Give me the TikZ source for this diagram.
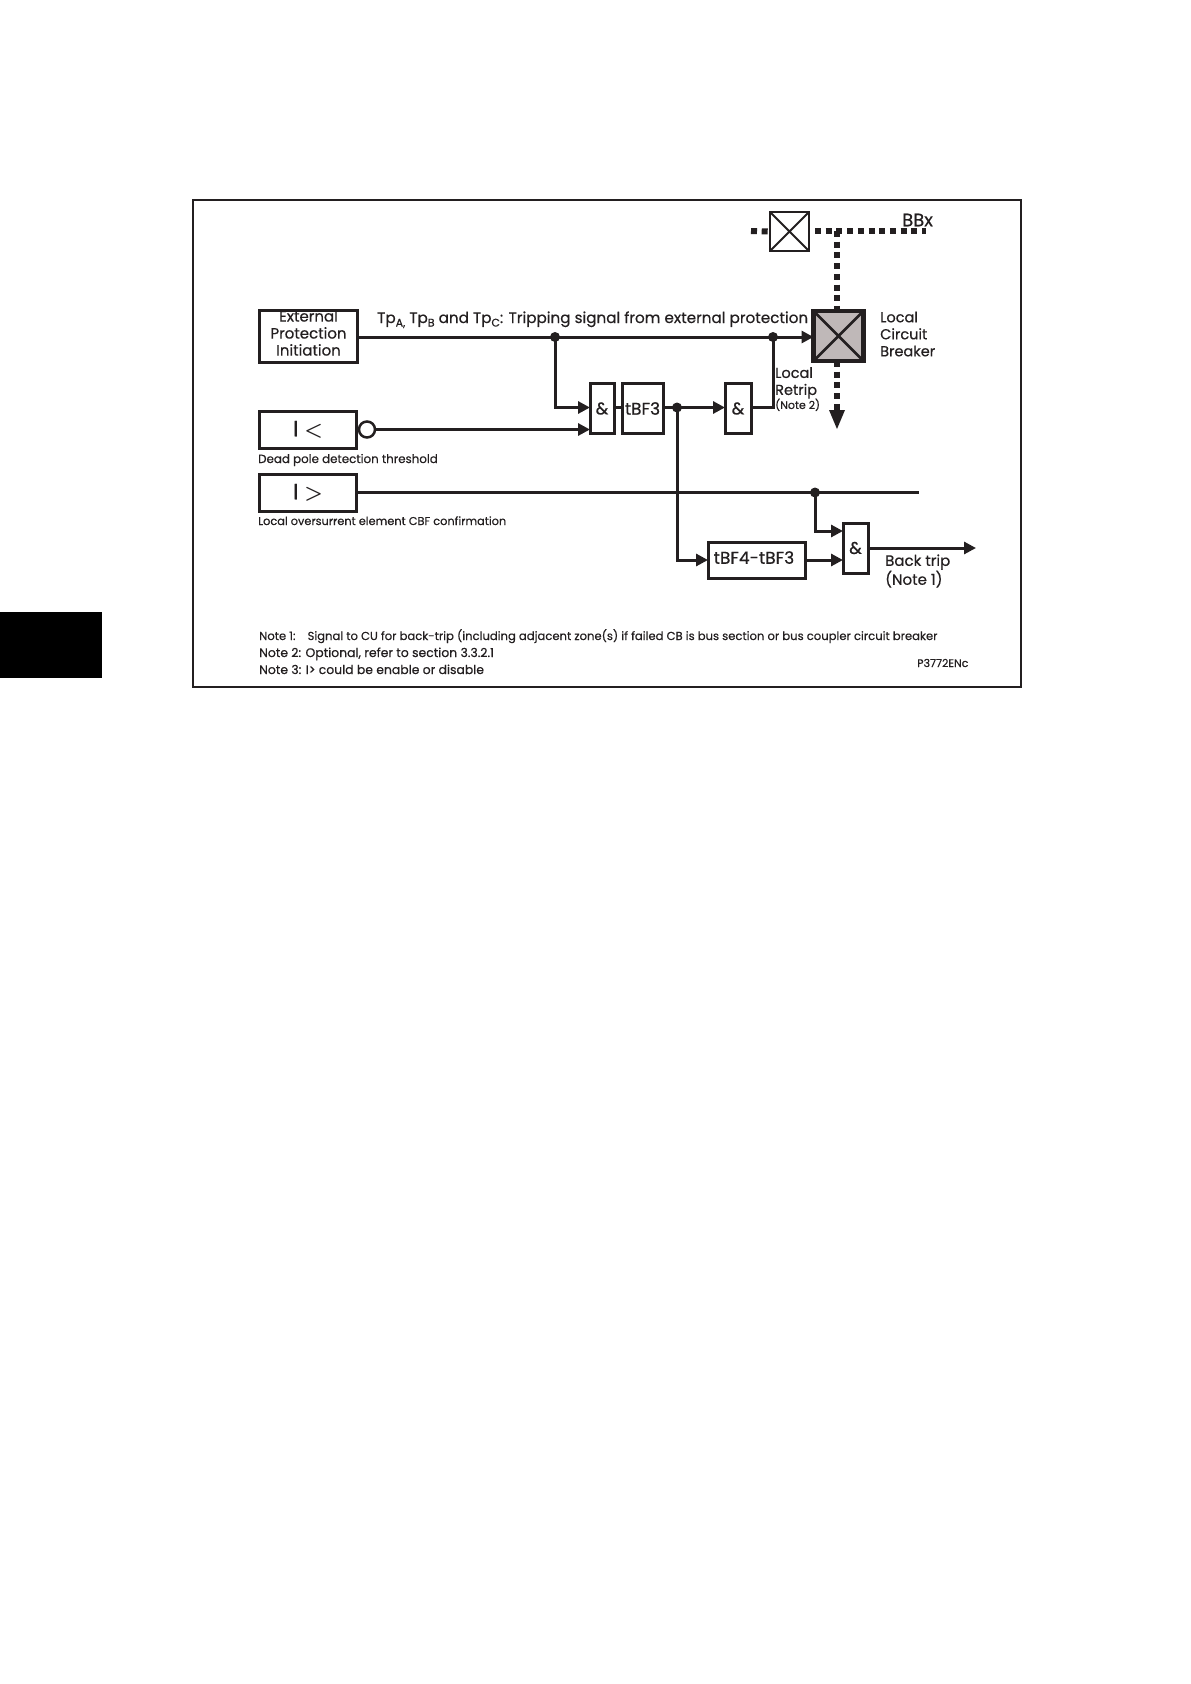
\documentclass[tikz,border=0pt]{standalone}
\usepackage{fontspec}
\setmainfont{Poppins}[RawFeature={embolden=0.5}]
\usepackage{tikz}
\usetikzlibrary{arrows.meta,positioning}
\definecolor{ink}{HTML}{231F20}
\definecolor{breaker}{HTML}{BFB8B8}
\newcommand{\tpsub}[1]{\raisebox{-3.5pt}{\fontsize{11}{12}\selectfont #1}}
\tikzset{
  box/.style={rectangle, draw=ink, fill=white, line width=3pt, outer sep=0pt, inner sep=0pt,
              align=center, text=ink, font=\fontsize{15}{17}\selectfont},
  inbox/.style={box, minimum width=97pt, minimum height=37pt, font=\fontsize{22}{24}\selectfont},
  gatebox/.style={box, minimum width=24pt, minimum height=50pt, font=\fontsize{17}{19}\selectfont},
  timebox/.style={box, font=\fontsize{17}{19}\selectfont},
  switchbox/.style={rectangle, draw=ink, fill=white, line width=2pt, outer sep=0pt, minimum size=39pt},
  lbl/.style={align=left, anchor=west, inner sep=0pt, text=ink, font=\fontsize{14.5}{17}\selectfont},
  small/.style={lbl, anchor=base west, font=\fontsize{11.6}{17}\selectfont},
  flow/.style={-{Triangle[length=12pt,width=12pt]}, draw=ink, line width=3pt},
  wire/.style={draw=ink, line width=3pt},
  bus/.style={draw=ink, line width=6pt, dash pattern=on 6pt off 4.7pt},
  dot/.style={circle, fill=ink, inner sep=0pt, minimum size=10pt}
}
\begin{document}
\begin{tikzpicture}[x=1pt, y=-1pt]
  \useasboundingbox (0,0) rectangle (1191,1684);
  \fill[black] (0,612) rectangle (102,678);
  \draw[ink, line width=1.7pt] (193,200) rectangle (1021,687);

  \node[box, minimum width=98pt, minimum height=52pt, anchor=center] (extinit) at (308.5,336) {External\\Protection\\Initiation\rule[-6pt]{0pt}{0pt}};
  \node[inbox] (under) at (308,429.5) {I {\boldmath$<$}};
  \node[inbox] (over) at (308,492.5) {I {\boldmath$>$}};
  \node[circle, draw=ink, line width=2.5pt, fill=white, outer sep=0pt, inner sep=0pt, minimum size=16pt, right=2.5pt of under] (invert) {};
  \node[gatebox] (andA) at (602,408.5) {\&};
  \node[timebox, minimum width=41pt, minimum height=50pt, right=8pt of andA] (tthree) {tBF3};
  \node[gatebox, minimum width=26pt] (andB) at (738,408.5) {\&};
  \node[box, draw=ink, fill=breaker, line width=4.5pt, minimum size=50pt] (cbreaker) at (838.5,336) {};
  \draw[ink, line width=2.5pt] (cbreaker.north west) -- (cbreaker.south east) (cbreaker.north east) -- (cbreaker.south west);
  \node[switchbox] (bswitch) at (789.5,231.5) {};
  \draw[ink, line width=2pt] (bswitch.north west) -- (bswitch.south east) (bswitch.north east) -- (bswitch.south west);
  \node[timebox, minimum width=97pt, minimum height=36pt] (tdiff) at (756.5,560) {tBF4-tBF3\hspace*{5pt}\rule[-5pt]{0pt}{0pt}};
  \node[gatebox, minimum width=25pt] (andC) at (855.5,548) {\&};

  \node[dot] (tripj) at (555,337) {};
  \node[dot] (localj) at (773,337) {};
  \node[dot] (timej) at (677,407.5) {};
  \node[dot] (overj) at (815,492.5) {};
  \coordinate (busleft) at (751,231);
  \coordinate (busright) at (926,231);
  \coordinate (busstart) at (815,231);
  \coordinate (bustee) at (837,231);
  \coordinate (breakend) at (837,411);
  \coordinate (overend) at (919,492.5);
  \coordinate (backend) at (976,548);

  \draw[flow] (extinit.east |- tripj) -- (cbreaker.west |- tripj);
  \draw[flow] (tripj.center) |- (andA.west |- timej);
  \draw[flow] (invert.east) -- (andA.west |- invert);
  \draw[wire] (andA.east |- timej) -- (tthree.west |- timej);
  \draw[flow] (tthree.east |- timej) -- (andB.west |- timej);
  \draw[wire] (andB.east |- timej) -| (localj.center);
  \draw[wire] (over.east) -- (overend);
  \draw[flow] (timej.center) |- (tdiff.west);
  \draw[flow] (tdiff.east) -- (andC.west |- tdiff);
  \draw[flow] (overj.center) |- ([yshift=17pt]andC.west);
  \draw[flow] (andC.east) -- (backend);
  \draw[bus] (busleft) -- (bswitch.west);
  \draw[bus] (busstart) -- (busright);
  \draw[bus] (bustee) -- (bustee |- cbreaker.north);
  \draw[bus] (bustee |- cbreaker.south) -- (breakend);
  \fill[ink] (829,410) -- (845,410) -- (837,429) -- cycle;

  \node[lbl, anchor=base west, font=\fontsize{15.2}{17}\selectfont] (tplbl) at (377,323) {Tp\tpsub{A,} Tp\tpsub{B} and Tp\tpsub{C}: Tripping signal from external protection};
  \node[lbl] (bbx) at (902,220) {\fontsize{18}{19}\selectfont BBx};
  \node[lbl] (cblbl) at (880,334) {Local\\Circuit\\Breaker};
  \node[lbl, anchor=north west] (retrip) at (775,367) {Local\\Retrip\\[-3pt]{\fontsize{11}{12}\selectfont (Note 2)}};
  \node[small, font=\fontsize{11.85}{17}\selectfont] (deadlbl) at (258,463) {Dead pole detection threshold};
  \node[small, font=\fontsize{11.35}{17}\selectfont] (oclbl) at (258,525) {Local oversurrent element CBF confirmation};
  \node[lbl, font=\fontsize{15}{17}\selectfont] (backlbl) at (885,571) {Back trip\\(Note 1)};
  \node[small] (noteone) at (259,640) {Note 1:\hspace{8pt} Signal to CU for back-trip (including adjacent zone(s) if failed CB is bus section or bus coupler circuit breaker};
  \node[small, font=\fontsize{12.4}{17}\selectfont] (notetwo) at (259,657) {Note 2: Optional, refer to section 3.3.2.1};
  \node[small, font=\fontsize{12.4}{17}\selectfont] (notethree) at (259,674) {Note 3: I> could be enable or disable};
  \node[small, font=\fontsize{11}{12}\selectfont] (refno) at (917,667) {P3772ENc};
\end{tikzpicture}
\end{document}
